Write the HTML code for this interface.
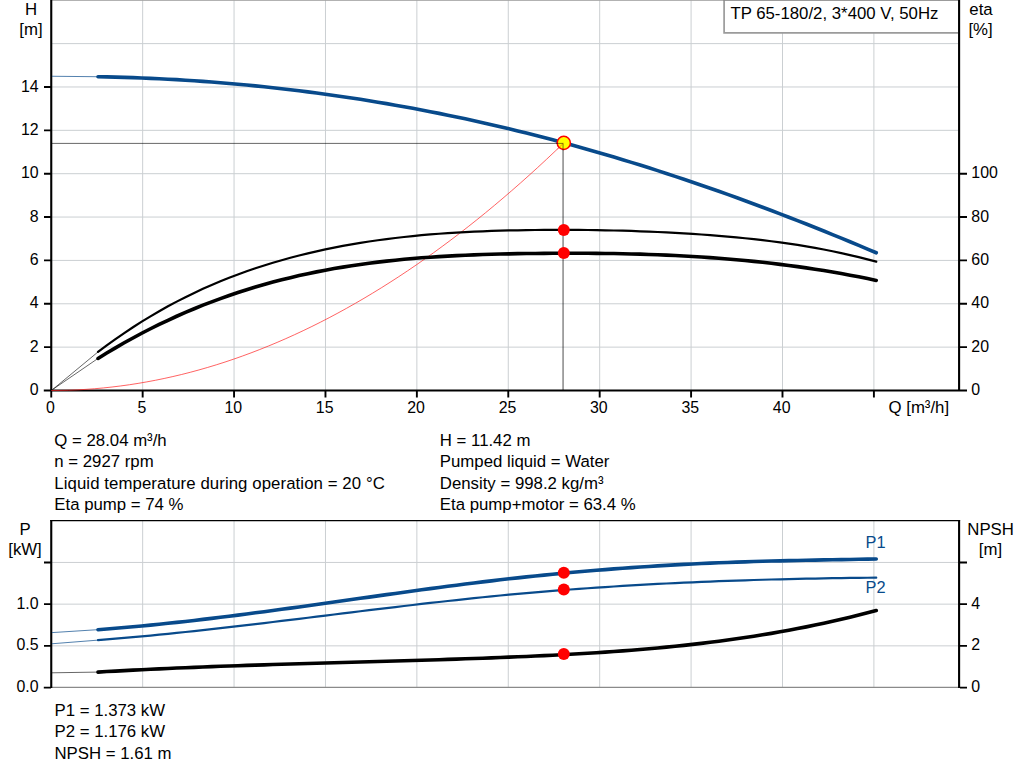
<!DOCTYPE html>
<html><head><meta charset="utf-8"><title>Pump curve</title>
<style>html,body{margin:0;padding:0;background:#fff;overflow:hidden}body{width:1024px;height:781px;position:relative}</style></head>
<body>
<svg width="1024" height="781" viewBox="0 0 1024 781" style="position:absolute;left:0;top:0;font-family:'Liberation Sans',sans-serif;font-size:16.8px">
<rect width="1024" height="781" fill="#fff"/>
<path d="M142.66,0V390 M234.06,0V390 M325.47,0V390 M416.87,0V390 M508.28,0V390 M599.68,0V390 M691.09,0V390 M782.49,0V390 M873.90,0V390 M52,347.14H958 M52,303.78H958 M52,260.42H958 M52,217.06H958 M52,173.70H958 M52,130.34H958 M52,86.98H958 M52,43.62H958" stroke="#cbcfd2" stroke-width="1" fill="none"/>
<path d="M142.66,521V687 M234.06,521V687 M325.47,521V687 M416.87,521V687 M508.28,521V687 M599.68,521V687 M691.09,521V687 M782.49,521V687 M873.90,521V687 M52,645.85H958 M52,604.15H958 M52,562.45H958" stroke="#cbcfd2" stroke-width="1" fill="none"/>
<path d="M52,687.4H959" stroke="#8a8a8a" stroke-width="1.2" fill="none"/>
<path d="M52,0.35H958" stroke="#a4a4a4" stroke-width="1" fill="none"/>
<rect x="724.1" y="0" width="234" height="32.8" fill="#fff"/>
<path d="M724.1,0V32.8H958.2" stroke="#9b9b9b" stroke-width="1.7" fill="none"/>
<path d="M723.3,0.35H958" stroke="#8a8a8a" stroke-width="1" fill="none"/>
<text x="730.4" y="18.9">TP 65-180/2, 3*400 V, 50Hz</text>
<path d="M52,143.4H563.55" stroke="#000" stroke-opacity="0.6" stroke-width="1" fill="none"/>
<path d="M563.05,142.9V390" stroke="#000" stroke-opacity="0.7" stroke-width="1" fill="none"/>
<path d="M51.25,0V390.5 M959.1,0V390.5" stroke="#000" stroke-width="2.1" fill="none"/>
<path d="M43.8,390.5H967 M44,347.14H51 M44,303.78H51 M44,260.42H51 M44,217.06H51 M44,173.70H51 M44,130.34H51 M44,86.98H51 M960,347.14H967 M960,303.78H967 M960,260.42H967 M960,217.06H967 M960,173.70H967 M51.25,390V397.5 M142.66,390V397.5 M234.06,390V397.5 M325.47,390V397.5 M416.87,390V397.5 M508.28,390V397.5 M599.68,390V397.5 M691.09,390V397.5 M782.49,390V397.5 M873.90,390V397.5" stroke="#000" stroke-width="1.9" fill="none"/>
<path d="M51.25,520V688 M959.1,520V688" stroke="#000" stroke-width="2.1" fill="none"/>
<path d="M50.2,520.6H960.1" stroke="#000" stroke-width="1.3" fill="none"/>
<path d="M43.8,687.6H51 M960,687.6H967 M44,645.85H51 M960,645.85H967 M44,604.15H51 M960,604.15H967 M44,562.45H51 M960,562.45H967" stroke="#000" stroke-width="1.9" fill="none"/>
<path d="M52,76.25L98,76.72" stroke="#084a8b" stroke-width="0.7" fill="none"/>
<path d="M52,632.6L98,629.67 M52,643.75L98,640.14" stroke="#084a8b" stroke-width="0.7" fill="none"/>
<path d="M52,672.8L98,672.09 M52.5,389.6L98,351.95 M52.5,389.6L98,358.43" stroke="#000" stroke-width="0.6" fill="none"/>
<path d="M51.25,390.50 L59.94,390.43 L68.62,390.22 L77.31,389.86 L86.00,389.36 L94.69,388.72 L103.37,387.94 L112.06,387.01 L120.75,385.95 L129.44,384.74 L138.12,383.39 L146.81,381.89 L155.50,380.26 L164.18,378.48 L172.87,376.56 L181.56,374.50 L190.25,372.29 L198.93,369.94 L207.62,367.45 L216.31,364.82 L225.00,362.05 L233.68,359.13 L242.37,356.07 L251.06,352.87 L259.74,349.53 L268.43,346.04 L277.12,342.42 L285.81,338.65 L294.49,334.73 L303.18,330.68 L311.87,326.48 L320.56,322.15 L329.24,317.66 L337.93,313.04 L346.62,308.27 L355.31,303.37 L363.99,298.32 L372.68,293.12 L381.37,287.79 L390.05,282.31 L398.74,276.69 L407.43,270.93 L416.12,265.03 L424.80,258.98 L433.49,252.79 L442.18,246.46 L450.87,239.99 L459.55,233.38 L468.24,226.62 L476.93,219.72 L485.61,212.68 L494.30,205.49 L502.99,198.17 L511.68,190.70 L520.36,183.09 L529.05,175.33 L537.74,167.44 L546.43,159.40 L555.11,151.22 L563.80,142.90" stroke="#ff2020" stroke-width="0.7" fill="none"/>
<path d="M98.00,76.72 L106.74,76.89 L115.49,77.10 L124.23,77.34 L132.98,77.63 L141.72,77.96 L150.47,78.33 L159.21,78.73 L167.96,79.18 L176.70,79.67 L185.44,80.20 L194.19,80.77 L202.93,81.37 L211.68,82.02 L220.42,82.71 L229.17,83.44 L237.91,84.21 L246.65,85.03 L255.40,85.88 L264.14,86.77 L272.89,87.71 L281.63,88.68 L290.38,89.70 L299.12,90.76 L307.87,91.86 L316.61,93.00 L325.35,94.18 L334.10,95.41 L342.84,96.68 L351.59,97.98 L360.33,99.33 L369.08,100.73 L377.82,102.16 L386.56,103.64 L395.31,105.15 L404.05,106.72 L412.80,108.32 L421.54,109.96 L430.29,111.65 L439.03,113.38 L447.78,115.16 L456.52,116.97 L465.26,118.83 L474.01,120.74 L482.75,122.68 L491.50,124.67 L500.24,126.70 L508.99,128.78 L517.73,130.90 L526.47,133.06 L535.22,135.26 L543.96,137.51 L552.71,139.81 L561.45,142.14 L570.20,144.52 L578.94,146.95 L587.69,149.41 L596.43,151.92 L605.17,154.47 L613.92,157.06 L622.66,159.69 L631.41,162.37 L640.15,165.08 L648.90,167.84 L657.64,170.63 L666.38,173.47 L675.13,176.35 L683.87,179.26 L692.62,182.21 L701.36,185.21 L710.11,188.24 L718.85,191.31 L727.60,194.42 L736.34,197.56 L745.08,200.74 L753.83,203.96 L762.57,207.22 L771.32,210.51 L780.06,213.84 L788.81,217.21 L797.55,220.61 L806.29,224.04 L815.04,227.51 L823.78,231.02 L832.53,234.56 L841.27,238.13 L850.02,241.74 L858.76,245.38 L867.51,249.05 L876.25,252.76" stroke="#084a8b" stroke-width="3.6" stroke-linecap="round" fill="none"/>
<path d="M98.00,351.95 L106.74,345.40 L115.49,339.10 L124.23,333.05 L132.98,327.24 L141.72,321.67 L150.47,316.33 L159.21,311.22 L167.96,306.33 L176.70,301.65 L185.44,297.18 L194.19,292.92 L202.93,288.85 L211.68,284.98 L220.42,281.29 L229.17,277.78 L237.91,274.45 L246.65,271.29 L255.40,268.29 L264.14,265.45 L272.89,262.76 L281.63,260.21 L290.38,257.80 L299.12,255.53 L307.87,253.37 L316.61,251.34 L325.35,249.43 L334.10,247.63 L342.84,245.94 L351.59,244.36 L360.33,242.89 L369.08,241.52 L377.82,240.24 L386.56,239.06 L395.31,237.97 L404.05,236.97 L412.80,236.05 L421.54,235.21 L430.29,234.45 L439.03,233.76 L447.78,233.14 L456.52,232.58 L465.26,232.09 L474.01,231.66 L482.75,231.29 L491.50,230.96 L500.24,230.69 L508.99,230.46 L517.73,230.28 L526.47,230.13 L535.22,230.02 L543.96,229.93 L552.71,229.89 L561.45,229.87 L570.20,229.88 L578.94,229.93 L587.69,230.02 L596.43,230.14 L605.17,230.29 L613.92,230.48 L622.66,230.71 L631.41,230.97 L640.15,231.28 L648.90,231.62 L657.64,232.00 L666.38,232.41 L675.13,232.87 L683.87,233.38 L692.62,233.92 L701.36,234.50 L710.11,235.13 L718.85,235.82 L727.60,236.56 L736.34,237.35 L745.08,238.22 L753.83,239.15 L762.57,240.15 L771.32,241.23 L780.06,242.39 L788.81,243.63 L797.55,244.96 L806.29,246.39 L815.04,247.91 L823.78,249.54 L832.53,251.27 L841.27,253.11 L850.02,255.07 L858.76,257.15 L867.51,259.34 L876.25,261.67" stroke="#000" stroke-width="2.2" stroke-linecap="round" fill="none"/>
<path d="M98.00,358.43 L106.74,353.04 L115.49,347.83 L124.23,342.80 L132.98,337.95 L141.72,333.28 L150.47,328.77 L159.21,324.44 L167.96,320.27 L176.70,316.26 L185.44,312.42 L194.19,308.73 L202.93,305.19 L211.68,301.81 L220.42,298.57 L229.17,295.48 L237.91,292.53 L246.65,289.72 L255.40,287.05 L264.14,284.50 L272.89,282.09 L281.63,279.81 L290.38,277.65 L299.12,275.61 L307.87,273.69 L316.61,271.88 L325.35,270.19 L334.10,268.60 L342.84,267.11 L351.59,265.73 L360.33,264.44 L369.08,263.25 L377.82,262.14 L386.56,261.12 L395.31,260.18 L404.05,259.32 L412.80,258.54 L421.54,257.83 L430.29,257.18 L439.03,256.60 L447.78,256.08 L456.52,255.62 L465.26,255.21 L474.01,254.85 L482.75,254.53 L491.50,254.26 L500.24,254.03 L508.99,253.84 L517.73,253.67 L526.47,253.54 L535.22,253.43 L543.96,253.34 L552.71,253.27 L561.45,253.23 L570.20,253.21 L578.94,253.22 L587.69,253.26 L596.43,253.33 L605.17,253.43 L613.92,253.56 L622.66,253.72 L631.41,253.93 L640.15,254.17 L648.90,254.45 L657.64,254.77 L666.38,255.13 L675.13,255.53 L683.87,255.98 L692.62,256.48 L701.36,257.03 L710.11,257.62 L718.85,258.27 L727.60,258.97 L736.34,259.72 L745.08,260.53 L753.83,261.40 L762.57,262.32 L771.32,263.31 L780.06,264.36 L788.81,265.47 L797.55,266.65 L806.29,267.89 L815.04,269.20 L823.78,270.58 L832.53,272.03 L841.27,273.55 L850.02,275.15 L858.76,276.83 L867.51,278.58 L876.25,280.41" stroke="#000" stroke-width="3.6" stroke-linecap="round" fill="none"/>
<path d="M98.00,629.67 L106.74,629.00 L115.49,628.29 L124.23,627.55 L132.98,626.77 L141.72,625.96 L150.47,625.11 L159.21,624.23 L167.96,623.32 L176.70,622.38 L185.44,621.42 L194.19,620.42 L202.93,619.41 L211.68,618.36 L220.42,617.30 L229.17,616.21 L237.91,615.11 L246.65,613.99 L255.40,612.84 L264.14,611.69 L272.89,610.52 L281.63,609.34 L290.38,608.14 L299.12,606.94 L307.87,605.72 L316.61,604.50 L325.35,603.27 L334.10,602.04 L342.84,600.81 L351.59,599.57 L360.33,598.33 L369.08,597.10 L377.82,595.87 L386.56,594.64 L395.31,593.42 L404.05,592.20 L412.80,591.00 L421.54,589.81 L430.29,588.63 L439.03,587.46 L447.78,586.31 L456.52,585.17 L465.26,584.06 L474.01,582.97 L482.75,581.89 L491.50,580.84 L500.24,579.82 L508.99,578.82 L517.73,577.85 L526.47,576.90 L535.22,575.99 L543.96,575.09 L552.71,574.23 L561.45,573.39 L570.20,572.58 L578.94,571.79 L587.69,571.03 L596.43,570.30 L605.17,569.59 L613.92,568.91 L622.66,568.26 L631.41,567.63 L640.15,567.03 L648.90,566.46 L657.64,565.91 L666.38,565.38 L675.13,564.89 L683.87,564.42 L692.62,563.97 L701.36,563.55 L710.11,563.16 L718.85,562.79 L727.60,562.45 L736.34,562.13 L745.08,561.84 L753.83,561.56 L762.57,561.31 L771.32,561.07 L780.06,560.85 L788.81,560.64 L797.55,560.45 L806.29,560.26 L815.04,560.09 L823.78,559.92 L832.53,559.76 L841.27,559.60 L850.02,559.45 L858.76,559.29 L867.51,559.14 L876.25,558.98" stroke="#084a8b" stroke-width="3.6" stroke-linecap="round" fill="none"/>
<path d="M98.00,640.14 L106.74,639.44 L115.49,638.72 L124.23,637.97 L132.98,637.19 L141.72,636.39 L150.47,635.56 L159.21,634.71 L167.96,633.83 L176.70,632.93 L185.44,632.02 L194.19,631.08 L202.93,630.13 L211.68,629.16 L220.42,628.17 L229.17,627.17 L237.91,626.16 L246.65,625.14 L255.40,624.10 L264.14,623.06 L272.89,622.01 L281.63,620.95 L290.38,619.88 L299.12,618.81 L307.87,617.73 L316.61,616.66 L325.35,615.58 L334.10,614.50 L342.84,613.42 L351.59,612.35 L360.33,611.27 L369.08,610.21 L377.82,609.14 L386.56,608.09 L395.31,607.04 L404.05,606.00 L412.80,604.98 L421.54,603.96 L430.29,602.96 L439.03,601.97 L447.78,600.99 L456.52,600.04 L465.26,599.10 L474.01,598.17 L482.75,597.27 L491.50,596.39 L500.24,595.53 L508.99,594.70 L517.73,593.89 L526.47,593.10 L535.22,592.33 L543.96,591.59 L552.71,590.88 L561.45,590.18 L570.20,589.51 L578.94,588.86 L587.69,588.23 L596.43,587.63 L605.17,587.04 L613.92,586.48 L622.66,585.93 L631.41,585.41 L640.15,584.90 L648.90,584.42 L657.64,583.95 L666.38,583.51 L675.13,583.08 L683.87,582.67 L692.62,582.28 L701.36,581.91 L710.11,581.55 L718.85,581.21 L727.60,580.89 L736.34,580.59 L745.08,580.30 L753.83,580.02 L762.57,579.77 L771.32,579.52 L780.06,579.29 L788.81,579.08 L797.55,578.88 L806.29,578.70 L815.04,578.53 L823.78,578.37 L832.53,578.22 L841.27,578.09 L850.02,577.97 L858.76,577.86 L867.51,577.77 L876.25,577.68" stroke="#084a8b" stroke-width="2.2" stroke-linecap="round" fill="none"/>
<path d="M98.00,672.09 L106.74,671.57 L115.49,671.08 L124.23,670.60 L132.98,670.13 L141.72,669.69 L150.47,669.26 L159.21,668.84 L167.96,668.44 L176.70,668.06 L185.44,667.69 L194.19,667.33 L202.93,666.98 L211.68,666.64 L220.42,666.32 L229.17,666.00 L237.91,665.70 L246.65,665.40 L255.40,665.11 L264.14,664.83 L272.89,664.55 L281.63,664.28 L290.38,664.02 L299.12,663.76 L307.87,663.50 L316.61,663.25 L325.35,663.00 L334.10,662.75 L342.84,662.51 L351.59,662.26 L360.33,662.01 L369.08,661.77 L377.82,661.52 L386.56,661.27 L395.31,661.02 L404.05,660.76 L412.80,660.50 L421.54,660.23 L430.29,659.96 L439.03,659.69 L447.78,659.40 L456.52,659.11 L465.26,658.81 L474.01,658.50 L482.75,658.19 L491.50,657.86 L500.24,657.52 L508.99,657.17 L517.73,656.81 L526.47,656.43 L535.22,656.04 L543.96,655.63 L552.71,655.20 L561.45,654.75 L570.20,654.28 L578.94,653.78 L587.69,653.26 L596.43,652.71 L605.17,652.13 L613.92,651.52 L622.66,650.88 L631.41,650.21 L640.15,649.49 L648.90,648.74 L657.64,647.96 L666.38,647.13 L675.13,646.25 L683.87,645.34 L692.62,644.37 L701.36,643.36 L710.11,642.30 L718.85,641.19 L727.60,640.02 L736.34,638.81 L745.08,637.53 L753.83,636.20 L762.57,634.81 L771.32,633.35 L780.06,631.83 L788.81,630.25 L797.55,628.60 L806.29,626.89 L815.04,625.10 L823.78,623.25 L832.53,621.32 L841.27,619.31 L850.02,617.23 L858.76,615.07 L867.51,612.83 L876.25,610.51" stroke="#000" stroke-width="3.6" stroke-linecap="round" fill="none"/>
<circle cx="563.8" cy="142.9" r="6.6" fill="#ffff00" stroke="#ff0000" stroke-width="1.5"/>
<path d="M556.05,143.4H563.05V150.4" stroke="#000" stroke-opacity="0.5" stroke-width="1" fill="none"/>
<path d="M557.30,149.14 L558.54,147.96 L559.78,146.77 L561.02,145.58 L562.26,144.39 L563.50,143.19" stroke="#ff2020" stroke-opacity="0.6" stroke-width="0.8" fill="none"/>
<circle cx="563.8" cy="230" r="6" fill="#ff0000"/>
<circle cx="563.8" cy="253" r="6" fill="#ff0000"/>
<circle cx="563.8" cy="572.75" r="6" fill="#ff0000"/>
<circle cx="563.8" cy="589.4" r="6" fill="#ff0000"/>
<circle cx="563.8" cy="654.1" r="6" fill="#ff0000"/>
<text x="31" y="14.5" text-anchor="middle">H</text>
<text x="31" y="34.5" text-anchor="middle">[m]</text>
<text x="981" y="14.5" text-anchor="middle">eta</text>
<text x="980.5" y="34.5" text-anchor="middle">[%]</text>
<text x="38.6" y="395.1" font-size="15.9" text-anchor="end">0</text>
<text x="38.6" y="351.74" font-size="15.9" text-anchor="end">2</text>
<text x="38.6" y="308.38" font-size="15.9" text-anchor="end">4</text>
<text x="38.6" y="265.02000000000004" font-size="15.9" text-anchor="end">6</text>
<text x="38.6" y="221.66" font-size="15.9" text-anchor="end">8</text>
<text x="38.6" y="178.29999999999998" font-size="15.9" text-anchor="end">10</text>
<text x="38.6" y="134.94000000000003" font-size="15.9" text-anchor="end">12</text>
<text x="38.6" y="91.58000000000001" font-size="15.9" text-anchor="end">14</text>
<text x="971.3" y="395.1" font-size="15.9">0</text>
<text x="971.3" y="351.74" font-size="15.9">20</text>
<text x="971.3" y="308.38" font-size="15.9">40</text>
<text x="971.3" y="265.02000000000004" font-size="15.9">60</text>
<text x="971.3" y="221.66" font-size="15.9">80</text>
<text x="971.3" y="178.29999999999998" font-size="15.9">100</text>
<text x="50.45" y="412.8" font-size="15.9" text-anchor="middle">0</text>
<text x="141.85555555555553" y="412.8" font-size="15.9" text-anchor="middle">5</text>
<text x="233.26111111111106" y="412.8" font-size="15.9" text-anchor="middle">10</text>
<text x="324.66666666666663" y="412.8" font-size="15.9" text-anchor="middle">15</text>
<text x="416.07222222222214" y="412.8" font-size="15.9" text-anchor="middle">20</text>
<text x="507.4777777777777" y="412.8" font-size="15.9" text-anchor="middle">25</text>
<text x="598.8833333333333" y="412.8" font-size="15.9" text-anchor="middle">30</text>
<text x="690.2888888888889" y="412.8" font-size="15.9" text-anchor="middle">35</text>
<text x="781.6944444444443" y="412.8" font-size="15.9" text-anchor="middle">40</text>
<text x="888.5" y="413">Q [m³/h]</text>
<text x="54.3" y="446.0">Q = 28.04 m³/h</text>
<text x="54.3" y="467.3">n = 2927 rpm</text>
<text x="54.3" y="488.6" letter-spacing="0.08">Liquid temperature during operation = 20 °C</text>
<text x="54.3" y="509.9">Eta pump = 74 %</text>
<text x="439.8" y="446.0">H = 11.42 m</text>
<text x="439.8" y="467.3">Pumped liquid = Water</text>
<text x="439.8" y="488.6">Density = 998.2 kg/m³</text>
<text x="439.8" y="509.9">Eta pump+motor = 63.4 %</text>
<text x="25" y="534.5" text-anchor="middle">P</text>
<text x="25" y="554.7" text-anchor="middle">[kW]</text>
<text x="990.6" y="534.5" text-anchor="middle">NPSH</text>
<text x="990.4" y="554.7" text-anchor="middle">[m]</text>
<text x="38.6" y="692.15" font-size="15.9" text-anchor="end">0.0</text>
<text x="38.6" y="650.4499999999999" font-size="15.9" text-anchor="end">0.5</text>
<text x="38.6" y="608.75" font-size="15.9" text-anchor="end">1.0</text>
<text x="971.3" y="692.15" font-size="15.9">0</text>
<text x="971.3" y="650.4499999999999" font-size="15.9">2</text>
<text x="971.3" y="608.75" font-size="15.9">4</text>
<text x="865.5" y="548" font-size="16.4" fill="#084a8b">P1</text>
<text x="865.5" y="592.5" font-size="16.4" fill="#084a8b">P2</text>
<text x="54.5" y="715.5">P1 = 1.373 kW</text>
<text x="54.5" y="737.1">P2 = 1.176 kW</text>
<text x="54.5" y="758.7">NPSH = 1.61 m</text>
</svg>
</body></html>
